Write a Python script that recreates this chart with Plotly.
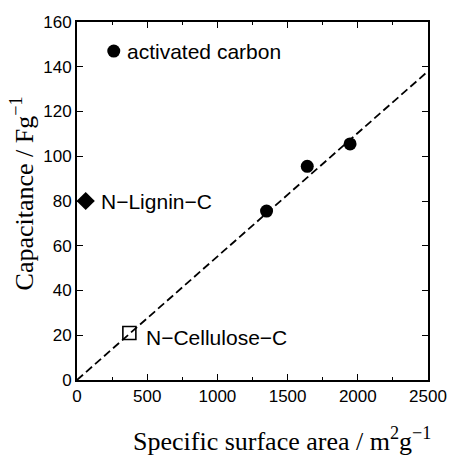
import plotly.graph_objects as go

# Data
ac_x = [1350, 1640, 1945]          # activated carbons (filled circles)
ac_y = [75.5, 95.5, 105.5]
lignin_x = [62]                    # N-Lignin-C (filled diamond)
lignin_y = [80]
cellulose_x = [373]                # N-Cellulose-C (open square)
cellulose_y = [21]
legend_x = [262]                   # "activated carbon" key marker
legend_y = [147]
fit_x = [0, 2500]                  # dashed proportional fit line
fit_y = [0, 138]

label_texts = ["activated carbon", "N\u2212Lignin\u2212C", "N\u2212Cellulose\u2212C"]
label_x = [340, 156, 478]
label_y = [147, 80, 19]

x_ticks = [0, 500, 1000, 1500, 2000, 2500]
y_ticks = [0, 20, 40, 60, 80, 100, 120, 140, 160]

fig = go.Figure()
fig.add_trace(go.Scatter(x=fit_x, y=fit_y, mode="lines",
                         line=dict(color="black", width=1.8, dash="8px,4px"),
                         hoverinfo="skip", showlegend=False))
fig.add_trace(go.Scatter(x=ac_x, y=ac_y, mode="markers",
                         marker=dict(symbol="circle", size=13, color="black"),
                         showlegend=False))
fig.add_trace(go.Scatter(x=legend_x, y=legend_y, mode="markers",
                         marker=dict(symbol="circle", size=13, color="black"),
                         showlegend=False))
fig.add_trace(go.Scatter(x=lignin_x, y=lignin_y, mode="markers",
                         marker=dict(symbol="diamond", size=14, color="black"),
                         showlegend=False))
fig.add_trace(go.Scatter(x=cellulose_x, y=cellulose_y, mode="markers",
                         marker=dict(symbol="square-open", size=13, color="black",
                                     line=dict(width=1.6, color="black")),
                         showlegend=False))

for t, lx, ly in zip(label_texts, label_x, label_y):
    fig.add_annotation(x=lx, y=ly, text=t, showarrow=False, xanchor="left",
                       yanchor="middle",
                       font=dict(family="Liberation Sans, Arial", size=21, color="black"))

# axis titles
fig.add_annotation(xref="paper", yref="paper", x=0.585, y=-0.165,
                   text="Specific surface area / m<sup>2</sup>g<sup>\u22121</sup>",
                   showarrow=False, xanchor="center", yanchor="middle",
                   font=dict(family="Liberation Serif, Times New Roman", size=26, color="black"))
fig.add_annotation(xref="paper", yref="paper", x=-0.155, y=0.52,
                   text="Capacitance / Fg<sup>\u22121</sup>", textangle=-90,
                   showarrow=False, xanchor="center", yanchor="middle",
                   font=dict(family="Liberation Serif, Times New Roman", size=26, color="black"))

axis_common = dict(showline=True, linecolor="black", linewidth=2, mirror="ticks",
                   ticks="inside", ticklen=6, tickwidth=1.3, tickcolor="black",
                   showgrid=False, zeroline=False,
                   tickfont=dict(family="Liberation Sans, Arial", size=17, color="black"))

fig.update_xaxes(range=[0, 2500], tickvals=x_ticks, ticktext=[str(v) for v in x_ticks],
                 minor=dict(dtick=250, ticks="inside", ticklen=3, tickcolor="black", tickwidth=1),
                 **axis_common)
fig.update_yaxes(range=[0, 160], tickvals=y_ticks, ticktext=[str(v) for v in y_ticks],
                 **axis_common)

fig.update_layout(width=459, height=455, margin=dict(l=77, r=20, t=22, b=75),
                  plot_bgcolor="white", paper_bgcolor="white", showlegend=False)

fig.write_html("out.html")
